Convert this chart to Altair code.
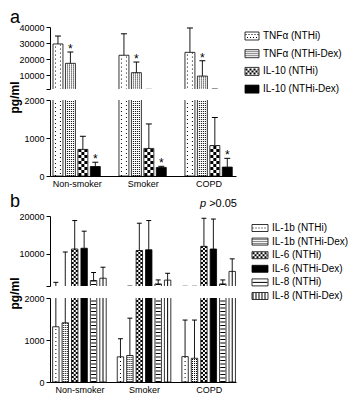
import json
import altair as alt
import pandas as pd

groups = ["Non-smoker", "Smoker", "COPD"]

# ---- panel a (pg/ml) ----
a_series = ["TNFα (NTHi)", "TNFα (NTHi-Dex)", "IL-10 (NTHi)", "IL-10 (NTHi-Dex)"]
a_tnf_nthi = [29500, 22500, 24300]
a_tnf_dex = [17500, 11700, 9600]
a_il10_nthi = [700, 725, 800]
a_il10_dex = [250, 225, 235]
a_tnf_nthi_sd = [4900, 13300, 15100]
a_tnf_dex_sd = [7000, 6600, 9500]
a_il10_nthi_sd = [345, 645, 740]
a_il10_dex_sd = [112, 30, 230]
a_star_upper = ["TNFα (NTHi-Dex)"]
a_star_lower = ["IL-10 (NTHi-Dex)"]

# ---- panel b (pg/ml) ----
b_series = ["IL-1b (NTHi)", "IL-1b (NTHi-Dex)", "IL-6 (NTHi)", "IL-6 (NTHi-Dex)",
            "IL-8 (NTHi)", "IL-8 (NTHi-Dex)"]
b_il1b_nthi = [1315, 600, 605]
b_il1b_dex = [1410, 630, 565]
b_il6_nthi = [11300, 10900, 12000]
b_il6_dex = [11500, 11100, 11300]
b_il8_nthi = [3000, 2100, 2100]
b_il8_dex = [3600, 3100, 5400]
b_il1b_nthi_sd = [1200, 430, 870]
b_il1b_dex_sd = [9100, 890, 910]
b_il6_nthi_sd = [7500, 7200, 7400]
b_il6_dex_sd = [4500, 7700, 7900]
b_il8_nthi_sd = [2100, 1050, 1050]
b_il8_dex_sd = [2900, 1800, 3300]
p_label = ">0.05"

FONT = "Liberation Sans, Arial, sans-serif"


def make_df(series, means, sds):
    rows = []
    for si, (s, m_list, sd_list) in enumerate(zip(series, means, sds)):
        for gi, (g, m, e) in enumerate(zip(groups, m_list, sd_list)):
            rows.append({"group": g, "gi": gi, "series": s, "si": si,
                         "mean": m, "top": m + e, "base": 0})
    return pd.DataFrame(rows)


a_df = make_df(a_series,
               [a_tnf_nthi, a_tnf_dex, a_il10_nthi, a_il10_dex],
               [a_tnf_nthi_sd, a_tnf_dex_sd, a_il10_nthi_sd, a_il10_dex_sd])
b_df = make_df(b_series,
               [b_il1b_nthi, b_il1b_dex, b_il6_nthi, b_il6_dex, b_il8_nthi, b_il8_dex],
               [b_il1b_nthi_sd, b_il1b_dex_sd, b_il6_nthi_sd, b_il6_dex_sd, b_il8_nthi_sd, b_il8_dex_sd])

W = 186

a_fills = ["white", "white", "white", "black"]
b_fills = ["white", "white", "white", "black", "white", "white"]

# pattern specs: (offset px, stroke width, dash, dash offset)
a_bar_pat = {
    "TNFα (NTHi)": [(-2.5, 1, [1, 3], 0), (2.5, 1, [1, 3], 2)],
    "TNFα (NTHi-Dex)": [(-3, 1, [1, 1], 0), (-1, 1, [1, 1], 0), (1, 1, [1, 1], 0), (3, 1, [1, 1], 0)],
    "IL-10 (NTHi)": [(-3, 3, [3, 3], 0), (0, 3, [3, 3], 3), (3, 3, [3, 3], 0)],
}
a_leg_pat = {
    "TNFα (NTHi)": [(-1.5, 1, [1, 2], 0), (1.5, 1, [1, 2], 1.5)],
    "TNFα (NTHi-Dex)": [(-2, 1, [1, 1], 0), (0, 1, [1, 1], 0), (2, 1, [1, 1], 0)],
    "IL-10 (NTHi)": [(-2, 2, [2, 2], 0), (0, 2, [2, 2], 2), (2, 2, [2, 2], 0)],
}
b_bar_pat = {
    "IL-1b (NTHi)": [(0, 1, [1, 3], 0)],
    "IL-1b (NTHi-Dex)": [(-2, 1, [1, 1], 0), (0, 1, [1, 1], 0), (2, 1, [1, 1], 0)],
    "IL-6 (NTHi)": [(-2, 2, [2, 2], 0), (0, 2, [2, 2], 2), (2, 2, [2, 2], 0)],
    "IL-8 (NTHi)": [(0, 5, [1, 2.5], 0)],
    "IL-8 (NTHi-Dex)": [(0, 1, None, 0)],
}
b_leg_pat = {
    "IL-1b (NTHi)": [(0, 1, [1, 2], 0)],
    "IL-1b (NTHi-Dex)": [(-2, 1, [1, 1], 0), (0, 1, [1, 1], 0), (2, 1, [1, 1], 0)],
    "IL-6 (NTHi)": [(-2, 2, [2, 2], 0), (0, 2, [2, 2], 2), (2, 2, [2, 2], 0)],
    "IL-8 (NTHi)": [(0, 1, None, 0)],
    "IL-8 (NTHi-Dex)": [(0, 6, [1, 2], 0)],
}

# horizontal layout (in slot units): group step, bar half width, cap half width, domain
a_geom = dict(G=5.3, hw=0.4, cap=0.24, dom=[-0.64, 14.3])
b_geom = dict(G=6.85, hw=0.34, cap=0.26, dom=[-0.62, 19.1])


def rule_props(w, dash, doff):
    p = dict(strokeWidth=w, color="black")
    if dash is not None:
        p["strokeDash"] = dash
        p["strokeDashOffset"] = doff
    return p


def bar_panel(df, series, fills, pats, geom, ydom, yticks, height, lower,
              stars=None, ytitle=None, title_y=0):
    G, hw, cap = geom["G"], geom["hw"], geom["cap"]
    n = len(series)
    centers = [gi * G + (n - 1) / 2 for gi in range(len(groups))]
    lab_expr = f"{json.dumps(groups)}[round((datum.value - {(n - 1) / 2}) / {G})]"
    xsc = alt.Scale(domain=geom["dom"], nice=False, zero=False)
    xaxis = (alt.Axis(values=centers, labelExpr=lab_expr, ticks=False, domain=True, labelAngle=0,
                      labelPadding=3, labelFontSize=9, grid=False, labelFlush=False,
                      labelOverlap=False, labelBound=False)
             if lower else None)

    def X(f):
        return alt.X(f + ":Q", scale=xsc, axis=xaxis, title=None)

    lab = "datum.label" if lower else "datum.value < 2000 ? '' : datum.label"
    ax = alt.Axis(values=yticks, format="d", labelExpr=lab, labelFlush=False, labelOverlap=False,
                  labelFontSize=9, tickSize=4, labelPadding=2, titleY=title_y, titlePadding=2)
    ysc = alt.Scale(domain=ydom, nice=False, zero=False)
    t = ytitle if ytitle else None

    def Y(f):
        return alt.Y(f + ":Q", scale=ysc, axis=ax, title=t)

    base = alt.Chart(df).transform_calculate(
        pos=f"datum.gi * {G} + datum.si",
        left=f"datum.gi * {G} + datum.si - {hw}",
        right=f"datum.gi * {G} + datum.si + {hw}",
        cl=f"datum.gi * {G} + datum.si - {cap}",
        cr=f"datum.gi * {G} + datum.si + {cap}",
    )
    layers = [base.mark_rect(clip=True, stroke="black", strokeWidth=0.8).encode(
        x=X("left"), x2="right:Q", y=Y("mean"), y2="base:Q",
        fill=alt.Fill("series:N", scale=alt.Scale(domain=series, range=fills), legend=None))]
    for s, specs in pats.items():
        for off, w, dash, doff in specs:
            layers.append(base.transform_filter(alt.datum.series == s).mark_rule(
                clip=True, xOffset=off, **rule_props(w, dash, doff)).encode(
                x=X("pos"), y=Y("base"), y2="mean:Q"))
    layers.append(base.mark_rule(clip=True, color="black", strokeWidth=0.9).encode(
        x=X("pos"), y=Y("mean"), y2="top:Q"))
    layers.append(base.mark_rule(clip=True, color="black", strokeWidth=1).encode(
        x=X("cl"), x2="cr:Q", y=Y("top")))
    if stars:
        layers.append(base.transform_filter(alt.FieldOneOfPredicate(field="series", oneOf=stars)).mark_text(
            clip=True, text="*", fontSize=12, font=FONT, dy=1, baseline="alphabetic", color="black").encode(
            x=X("pos"), y=Y("top")))
    return layers


def legend_panel(series, fills, pats, first, step, sw_w, sw_h, fs, width, height):
    n = len(series)
    df = pd.DataFrame({"series": series, "idx": list(range(n))})
    ysc = alt.Scale(domain=[0, n - 1], range=[first, first + step * (n - 1)])
    half = sw_h / 2.0 / step
    base = alt.Chart(df)
    layers = [base.transform_calculate(lo=f"datum.idx - {half}", hi=f"datum.idx + {half}").mark_rect(
        stroke="black", strokeWidth=0.8).encode(
        x=alt.value(0), x2=alt.value(sw_w),
        y=alt.Y("lo:Q", scale=ysc, axis=None), y2="hi:Q",
        fill=alt.Fill("series:N", scale=alt.Scale(domain=series, range=fills), legend=None))]
    for s, specs in pats.items():
        for off, w, dash, doff in specs:
            layers.append(base.transform_filter(alt.datum.series == s).mark_rule(
                yOffset=off, **rule_props(w, dash, doff)).encode(
                x=alt.value(0.5), x2=alt.value(sw_w - 0.5), y=alt.Y("idx:Q", scale=ysc, axis=None)))
    layers.append(base.mark_text(align="left", baseline="middle", font=FONT, fontSize=fs, color="black").encode(
        x=alt.value(sw_w + 4), y=alt.Y("idx:Q", scale=ysc, axis=None), text="series:N"))
    return alt.layer(*layers).properties(width=width, height=height)


def letter(ch, y):
    return alt.Chart(pd.DataFrame({"t": [ch]})).mark_text(
        align="left", baseline="alphabetic", font=FONT, fontSize=18, color="black").encode(
        x=alt.value(-40), y=alt.value(y), text="t:N")


a_up = alt.layer(*bar_panel(a_df, a_series, a_fills, a_bar_pat, a_geom, [1600, 40000],
                            [1600, 10000, 20000, 30000, 40000], 62, False, stars=a_star_upper),
                 letter("a", -4)).properties(width=W, height=62)
a_low = alt.layer(*bar_panel(a_df, a_series, a_fills, a_bar_pat, a_geom, [0, 2000], [0, 1000, 2000],
                             76, True, stars=a_star_lower, ytitle="pg/ml", title_y=-3)).properties(
    width=W, height=76)

p_df = pd.DataFrame({"t": [p_label]})
p_text = alt.Chart(p_df).mark_text(align="right", baseline="alphabetic", font=FONT, fontSize=11,
                                   color="black").encode(x=alt.value(W + 1), y=alt.value(-9), text="t:N")
p_ital = alt.Chart(p_df).mark_text(align="right", baseline="alphabetic", font=FONT, fontSize=11,
                                   fontStyle="italic", color="black", text="p").encode(
    x=alt.value(W - 30), y=alt.value(-9))

b_up = alt.layer(*bar_panel(b_df, b_series, b_fills, b_bar_pat, b_geom, [1550, 20000],
                            [1550, 10000, 20000], 70, False),
                 p_text, p_ital, letter("b", -9)).properties(width=W, height=70)
b_low = alt.layer(*bar_panel(b_df, b_series, b_fills, b_bar_pat, b_geom, [0, 2000], [0, 1000, 2000],
                             84, True, ytitle="pg/ml", title_y=-5)).properties(width=W, height=84)

inner_a = alt.vconcat(a_up, a_low, spacing=11, bounds="flush")
inner_b = alt.vconcat(b_up, b_low, spacing=12, bounds="flush")

leg_a = legend_panel(a_series, a_fills, a_leg_pat, 9, 17.7, 14, 8, 10, 90, 70)
leg_b = legend_panel(b_series, b_fills, b_leg_pat, 12, 13.6, 16, 7, 10, 92, 85)

row_a = alt.hconcat(inner_a, leg_a, spacing=8)
row_b = alt.hconcat(inner_b, leg_b, spacing=12)

chart = alt.vconcat(row_a, row_b, spacing=5).properties(
    padding={"left": 0, "top": 1, "right": 0, "bottom": 0}
).configure_view(stroke=None).configure_axis(
    domainColor="black", tickColor="black", labelColor="black", titleColor="black",
    labelFont=FONT, grid=False, titleFont=FONT, titleFontSize=12, titleFontWeight="bold"
)

chart.save("out.html", embed_options={"renderer": "svg", "actions": False})
